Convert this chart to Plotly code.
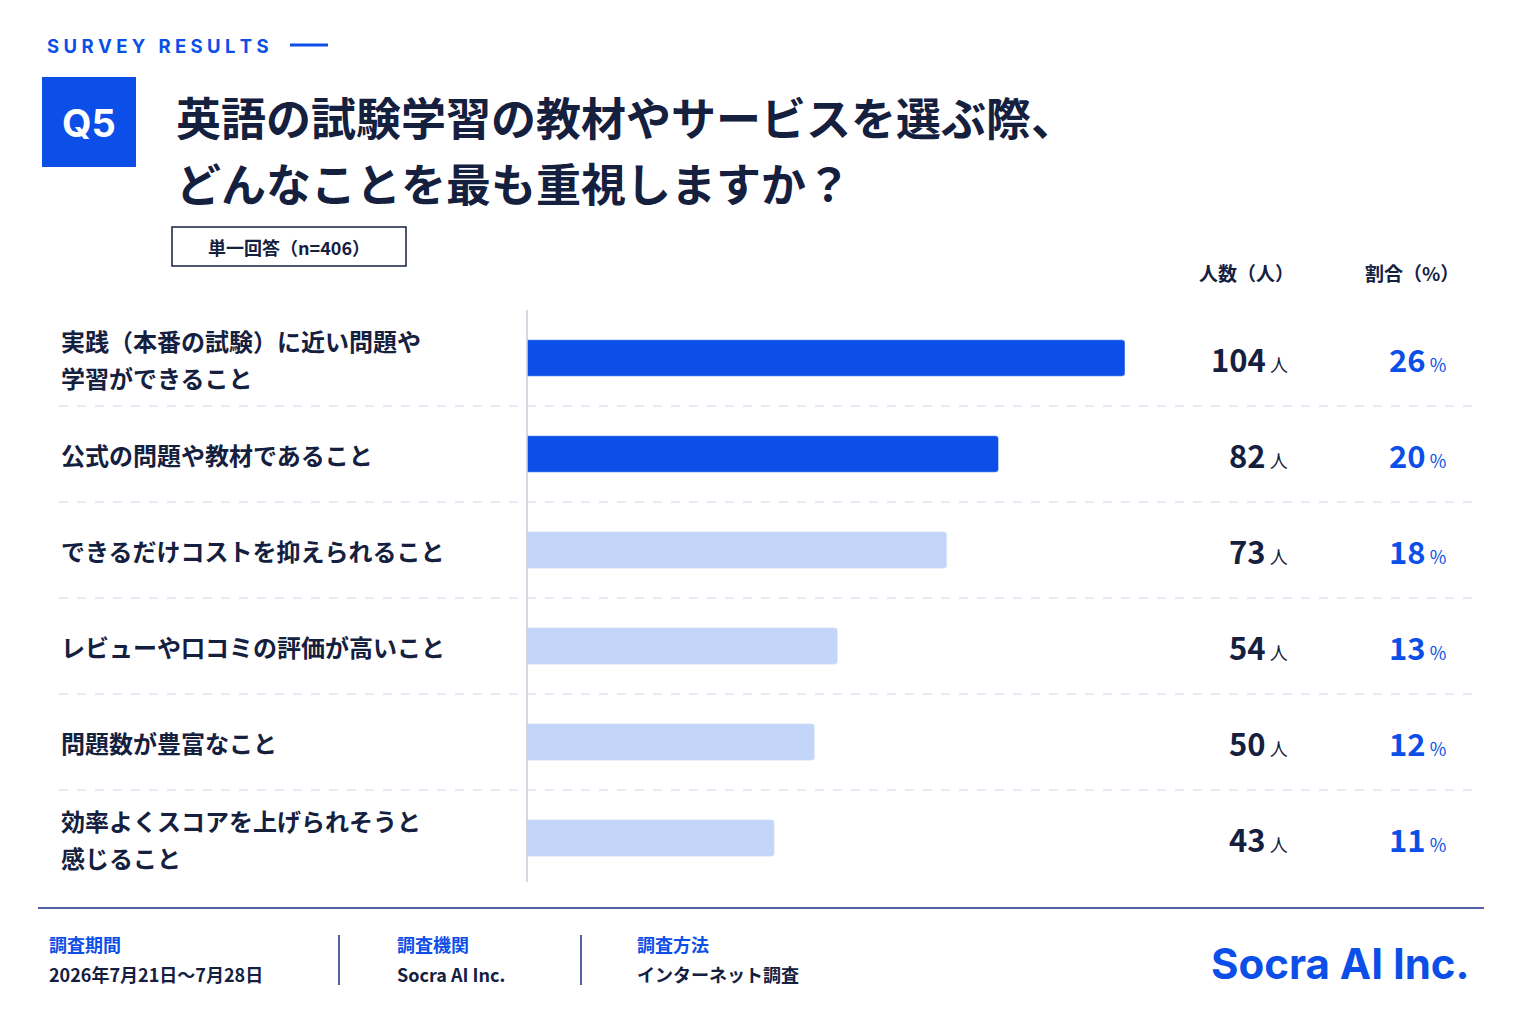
import plotly.graph_objects as go

labels = [["実践（本番の試験）に近い問題や", "学習ができること"], ["公式の問題や教材であること"], ["できるだけコストを抑えられること"],
          ["レビューや口コミの評価が高いこと"], ["問題数が豊富なこと"], ["効率よくスコアを上げられそうと", "感じること"]]
counts = [104, 82, 73, 54, 50, 43]
pcts = [26, 20, 18, 13, 12, 11]
colors = ["#0B4FE8", "#0B4FE8", "#C3D5F8", "#C3D5F8", "#C3D5F8", "#C3D5F8"]

W, H = 1535, 1024
NAVY = "#15203F"
BLUE = "#0B4FE8"
FONT = "Noto Sans CJK JP"
OX, OY = 8, 8
def px(x): return (x - OX) / W
def py(y): return 1 - (y - OY) / H

top, bot = 310, 886
rowh = (bot - top) / len(labels)
ids = list(range(len(labels)))

fig = go.Figure(go.Bar(x=counts, y=ids, orientation="h", marker=dict(color=colors, cornerradius=3),
                       width=0.38, hoverinfo="skip"))
fig.update_layout(width=W, height=H, margin=dict(l=0, r=0, t=0, b=0), paper_bgcolor="white",
                  plot_bgcolor="rgba(0,0,0,0)", showlegend=False, font=dict(family=FONT, color=NAVY),
                  xaxis=dict(domain=[px(527), px(1125)], range=[0, 104], visible=False, fixedrange=True),
                  yaxis=dict(domain=[py(bot), py(top)], range=[len(labels) - 0.5, -0.5], visible=False))

shapes = []
ann = []
def text(x, y, t, size, color=NAVY, xa="left", bold=False, family=FONT):
    ann.append(dict(x=px(x), y=py(y), xref="paper", yref="paper", text=f"<b>{t}</b>" if bold else t,
                    showarrow=False, xanchor=xa, yanchor="middle", align="left",
                    font=dict(size=size, color=color, family=family)))

# header
text(45, 46, "S U R V E Y   R E S U L T S", 18.5, BLUE, bold=True, family="Inter")
shapes.append(dict(type="line", xref="paper", yref="paper", x0=px(290), x1=px(328), y0=py(45), y1=py(45), line=dict(color=BLUE, width=3)))
shapes.append(dict(type="rect", xref="paper", yref="paper", x0=px(42), x1=px(136), y0=py(167), y1=py(77), fillcolor=BLUE, line=dict(width=0), layer="below"))
text(89, 123, "Q5", 38, "white", xa="center", bold=True, family="Inter")
text(174, 116, "英語の試験学習の教材やサービスを選ぶ際、", 45, NAVY, bold=True)
text(174, 182, "どんなことを最も重視しますか？", 45, NAVY, bold=True)
shapes.append(dict(type="rect", xref="paper", yref="paper", x0=px(172), x1=px(406), y0=py(266), y1=py(227), line=dict(color=NAVY, width=1.5)))
text(289, 247, "<b>単一回答（n=406）</b>", 18, NAVY, xa="center")
text(1246, 272, "人数（人）", 19, NAVY, xa="center", bold=True)
text(1412, 272, "割合（%）", 19, NAVY, xa="center", bold=True)

# axis line
shapes.append(dict(type="line", xref="paper", yref="paper", x0=px(527), x1=px(527), y0=py(310), y1=py(882), line=dict(color="#C8CDD8", width=1.5)))
for i, lab in enumerate(labels):
    cy = top + rowh * (i + 0.5)
    if len(lab) == 1:
        text(59, cy, lab[0], 24, NAVY, bold=True)
    else:
        text(59, cy - 18, lab[0], 24, NAVY, bold=True)
        text(59, cy + 19, lab[1], 24, NAVY, bold=True)
    text(1290, cy, f"<b>{counts[i]}</b><span style='font-size:18px'> 人</span>", 31, NAVY, xa="right")
    text(1448, cy, f"<b>{pcts[i]}</b><span style='font-size:18px'> %</span>", 31, BLUE, xa="right")
    if i < len(labels) - 1:
        yy = top + rowh * (i + 1)
        shapes.append(dict(type="line", xref="paper", yref="paper", x0=px(59), x1=px(1478), y0=py(yy), y1=py(yy), line=dict(color="#C9D6EE", width=1, dash="dash")))

# footer
shapes.append(dict(type="line", xref="paper", yref="paper", x0=px(38), x1=px(1484), y0=py(908), y1=py(908), line=dict(color="#1A2A8A", width=1.5)))
for x in (339, 581):
    shapes.append(dict(type="line", xref="paper", yref="paper", x0=px(x), x1=px(x), y0=py(935), y1=py(985), line=dict(color="#1A2A8A", width=1.5)))
text(47, 944, "調査期間", 18, BLUE, bold=True)
text(47, 974, "2026年7月21日～7月28日", 18, NAVY, bold=True)
text(395, 944, "調査機関", 18, BLUE, bold=True)
text(395, 974, "Socra AI Inc.", 18, NAVY, bold=True)
text(635, 944, "調査方法", 18, BLUE, bold=True)
text(635, 974, "インターネット調査", 18, NAVY, bold=True)
text(1472, 963, "Socra AI Inc.", 42, BLUE, xa="right", bold=True, family="Inter")

fig.update_layout(shapes=shapes, annotations=ann)
fig.write_html("out.html")
